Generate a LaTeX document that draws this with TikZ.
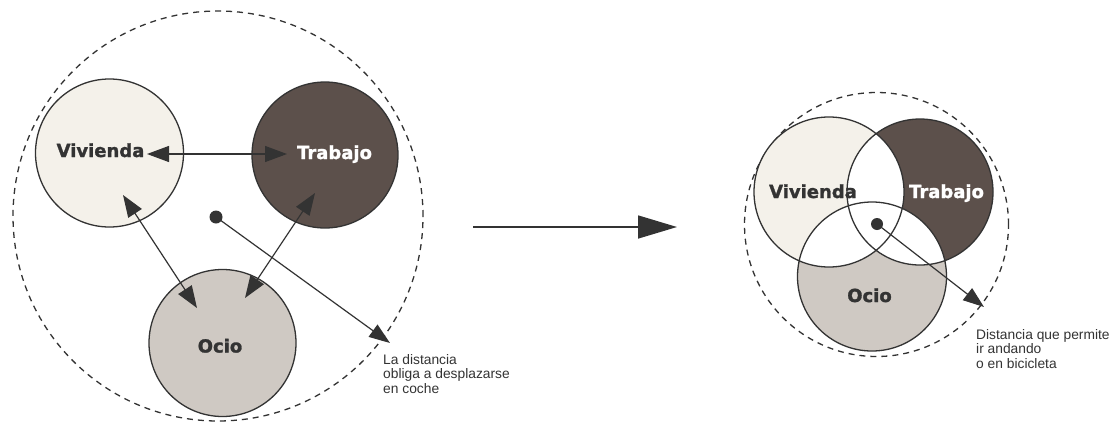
\documentclass[tikz,border=0pt]{standalone}
\usepackage{fontspec}
\setmainfont{Liberation Sans}
\newfontfamily\heavyfont{DejaVu Sans}[BoldFeatures={FakeBold=1.5}]
\usetikzlibrary{arrows.meta}
\definecolor{viv}{HTML}{F4F1EA}
\definecolor{tra}{HTML}{5C504B}
\definecolor{oci}{HTML}{CFC9C3}
\definecolor{ink}{HTML}{333333}
\begin{document}
\begin{tikzpicture}[x=1pt,y=-1pt,
  zone/.style={circle,draw=ink,line width=1.3pt,inner sep=0pt,minimum size=#1},
  bigzone/.style={circle,draw=ink,dash pattern=on 6pt off 5pt,line width=1.3pt,inner sep=0pt,minimum size=#1},
  lbl/.style={font=\heavyfont\bfseries\fontsize{18}{20}\selectfont,inner sep=0pt,anchor=base},
  note/.style={font=\fontsize{13.8}{14.5}\selectfont,align=left,inner sep=0pt,anchor=north west,text=ink},
  link/.style={draw=ink,line width=1.2pt,{Triangle[length=22pt,width=16pt]}-{Triangle[length=22pt,width=16pt]}},
  pointer/.style={draw=ink,line width=1.2pt,-{Triangle[length=21pt,width=15pt]}},
  bigarrow/.style={draw=ink,line width=1.6pt,-{Triangle[length=39pt,width=23pt]}},
  dot/.style={circle,fill=ink,inner sep=0pt,minimum size=#1},
]
\useasboundingbox[fill=white] (0,0) rectangle (1116,426);

% ---------- left diagram ----------
\node[bigzone=410pt] (L) at (218,216) {};
\node[zone=148pt,fill=viv] (LV) at (109.5,153) {};
\node[zone=146pt,fill=tra] (LT) at (325,155) {};
\node[zone=147pt,fill=oci] (LO) at (222.5,343) {};
\node[dot=13pt] (Ldot) at (216,217) {};

\node[lbl,text=ink] (LVt) at (100.5,157) {Vivienda};
\node[lbl,text=white] (LTt) at (334.5,159) {Trabajo};
\node[lbl,text=ink] (LOt) at (220,352.5) {Ocio};

\coordinate (vt1) at (147,154);
\coordinate (vt2) at (287,154);
\coordinate (vo1) at (123,195);
\coordinate (vo2) at (197,308);
\coordinate (to1) at (315,193);
\coordinate (to2) at (245,298);
\coordinate (Ltip) at (390,343);
\draw[link] (vt1) -- (vt2);
\draw[link] (vo1) -- (vo2);
\draw[link] (to1) -- (to2);
\draw[pointer] (Ldot.center) -- (Ltip);

\node[note] (Lnote) at (383,354) {La distancia\\obliga a desplazarse\\en coche};

% ---------- middle arrow ----------
\coordinate (m1) at (473,227);
\coordinate (m2) at (677,227);
\draw[bigarrow] (m1) -- (m2);

% ---------- right diagram ----------
\node[bigzone=264pt] (R) at (876.5,224.5) {};
\node[zone=150pt,fill=viv,draw=none] (RV) at (829,192) {};
\node[zone=146pt,fill=tra,draw=none] (RT) at (920,192) {};
\node[zone=149pt,fill=oci,draw=none] (RO) at (872,276.5) {};
\begin{scope}
  \clip (RV.center) circle[radius=75];
  \fill[white] (RT.center) circle[radius=73];
  \fill[white] (RO.center) circle[radius=74.5];
\end{scope}
\begin{scope}
  \clip (RT.center) circle[radius=73];
  \fill[white] (RO.center) circle[radius=74.5];
\end{scope}
\draw[ink,line width=1.3pt] (RV.center) circle[radius=75]
  (RT.center) circle[radius=73] (RO.center) circle[radius=74.5];
\node[dot=12pt] (Rdot) at (877,224) {};

\node[lbl,text=ink] (RVt) at (813,198) {Vivienda};
\node[lbl,text=white] (RTt) at (946.5,198) {Trabajo};
\node[lbl,text=ink] (ROt) at (869.5,302) {Ocio};

\coordinate (Rtip) at (984,307);
\draw[pointer] (Rdot.center) -- (Rtip);

\node[note] (Rnote) at (976,329) {Distancia que permite\\ir andando\\o en bicicleta};
\end{tikzpicture}
\end{document}
